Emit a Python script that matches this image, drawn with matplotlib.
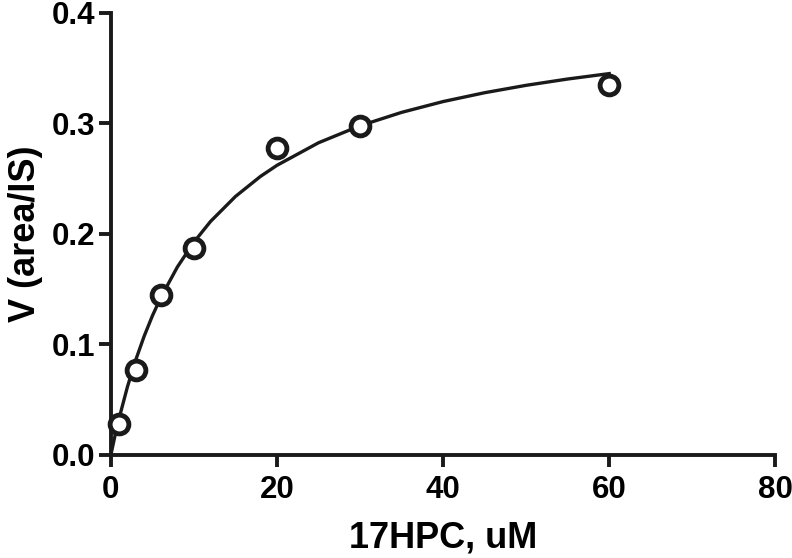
import numpy as np
import matplotlib.pyplot as plt

# measured points
conc = [1, 3, 6, 10, 20, 30, 60]
rate = [0.028, 0.077, 0.145, 0.187, 0.278, 0.298, 0.335]

# fitted curve
fit_x = [0, 0.5, 1, 2, 3, 4, 5, 6, 8, 10, 12, 15, 18, 20, 25, 30, 35, 40, 45, 50, 55, 60]
fit_y = [0, 0.0174, 0.0333, 0.0617, 0.0860, 0.1072, 0.1258, 0.1422, 0.1699, 0.1925,
         0.2112, 0.2338, 0.2519, 0.2620, 0.2824, 0.2978, 0.3099, 0.3197, 0.3277,
         0.3344, 0.3401, 0.3450]

xticks = [0, 20, 40, 60, 80]
yticks = [0.0, 0.1, 0.2, 0.3, 0.4]

plt.rcParams['font.family'] = ['Liberation Sans', 'DejaVu Sans']
plt.rcParams['font.weight'] = 'bold'

fig = plt.figure(figsize=(7.92, 5.58), dpi=100)
ax = fig.add_axes([0.140, 0.185, 0.839, 0.792])

ax.plot(fit_x, fit_y, color='#1a1a1a', lw=2.4, zorder=2)
ax.plot(conc, rate, 'o', ms=13.5, mfc='white', mec='#1a1a1a', mew=3.5, zorder=3,
        clip_on=False)

ax.set_xlim(0, 80)
ax.set_ylim(0, 0.4)
ax.set_xticks(xticks)
ax.set_yticks(yticks)
ax.set_xticklabels([str(v) for v in xticks])
ax.set_yticklabels(['%.1f' % v for v in yticks])

for s in ['top', 'right']:
    ax.spines[s].set_visible(False)
for s in ['left', 'bottom']:
    ax.spines[s].set_linewidth(2.8)
    ax.spines[s].set_color('#1a1a1a')
ax.tick_params(width=2.8, length=8.5, color='#1a1a1a', labelsize=22.5)
ax.tick_params(axis='x', pad=6)
ax.tick_params(axis='y', pad=3)

ax.set_xlabel('17HPC, uM', fontsize=26, fontweight='bold', labelpad=11)
ax.set_ylabel('V (area/IS)', fontsize=26, fontweight='bold', labelpad=6)

fig.savefig('out.png', dpi=100)
